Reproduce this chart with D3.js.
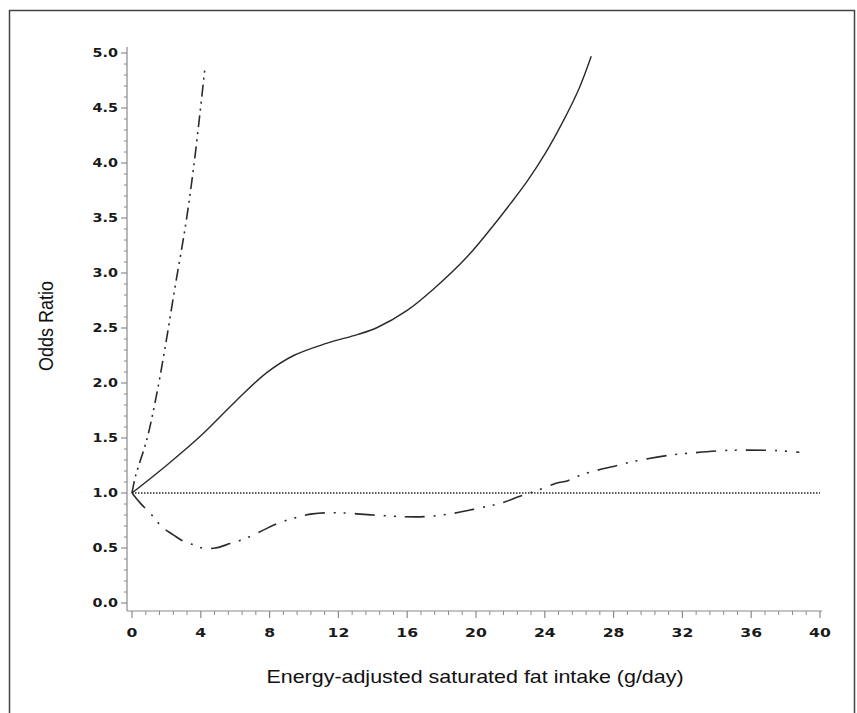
<!DOCTYPE html>
<html lang="en">
<head>
<meta charset="utf-8">
<title>Odds Ratio vs saturated fat intake</title>
<script src="https://d3js.org/d3.v7.min.js"></script>
<style>
  body { margin: 0; background: #fff; }
  .tick-label { font-family: "DejaVu Sans", sans-serif; font-weight: bold; font-size: 11.5px; fill: #1a1a1a; }
  .title { font-family: "Liberation Sans", Arial, sans-serif; font-size: 18.5px; fill: #111; }
</style>
</head>
<body>
<div id="vis"></div>
<script>
  // tick values
  const xTicks = [0, 4, 8, 12, 16, 20, 24, 28, 32, 36, 40];
  const yTicks = [0, 0.5, 1, 1.5, 2, 2.5, 3, 3.5, 4, 4.5, 5];

  // curves: [intake, odds ratio]
  const steepCurve = [[0, 1], [0.2, 1.15], [0.85, 1.48], [1.35, 1.83], [1.9, 2.3], [2.5, 2.87],
    [3.1, 3.42], [3.55, 3.92], [3.95, 4.45], [4.25, 4.88]];
  const solidCurve = [[0, 1], [2, 1.25], [4, 1.52], [6, 1.83], [7.8, 2.09], [9.4, 2.25], [11.3, 2.36],
    [13.1, 2.44], [14.2, 2.5], [16, 2.66], [17.5, 2.85], [19.5, 3.15], [21, 3.43], [22, 3.63], [23, 3.84],
    [24, 4.08], [25, 4.36], [26, 4.68], [26.7, 4.97]];
  const lowerCurve = [[0, 1], [0.47, 0.91], [1.15, 0.8], [1.75, 0.69], [2.4, 0.62], [3, 0.56], [3.55, 0.53],
    [4.05, 0.5], [4.85, 0.5], [5.7, 0.54], [6.5, 0.58], [7.6, 0.66], [8.4, 0.72], [9.4, 0.77], [10.5, 0.81],
    [12, 0.82], [14, 0.8], [15.8, 0.785], [17, 0.785], [18.5, 0.81], [19.65, 0.845], [20.7, 0.88],
    [21.5, 0.91], [22.55, 0.97], [23.5, 1.02], [24.7, 1.09], [25.3, 1.11], [26.2, 1.17], [28.2, 1.25],
    [29.1, 1.285], [31.3, 1.345], [32.25, 1.36], [34.3, 1.385], [35.5, 1.39], [37.5, 1.385], [38.8, 1.37]];
  const reference = [[0, 1], [40, 1]];

  const width = 857, height = 713;

  const x = d3.scaleLinear().domain([0, 40]).range([132, 820]);
  const y = d3.scaleLinear().domain([0, 5]).range([603, 53]);

  const svg = d3.select('#vis').append('svg')
    .attr('width', width)
    .attr('height', height);

  // frame round the figure (bottom edge falls off the page)
  svg.append('rect')
    .attr('x', 9.5).attr('y', 10.5)
    .attr('width', 845).attr('height', 720)
    .attr('fill', 'none')
    .attr('stroke', '#444')
    .attr('stroke-width', 1.5);

  const axisColour = '#8a8a8a';
  const yAxisX = 127, xAxisY = 611;

  // y axis: line, major + minor ticks
  svg.append('line')
    .attr('x1', yAxisX).attr('x2', yAxisX)
    .attr('y1', 47).attr('y2', xAxisY)
    .attr('stroke', axisColour).attr('stroke-width', 1.2);

  const yMinor = d3.range(0, 50).map(i => i / 10).filter(v => Math.round(v * 10) % 5 !== 0);
  svg.selectAll('.ytick-minor').data(yMinor).enter().append('line')
    .attr('x1', yAxisX - 3).attr('x2', yAxisX)
    .attr('y1', d => y(d)).attr('y2', d => y(d))
    .attr('stroke', axisColour);
  svg.selectAll('.ytick').data(yTicks).enter().append('line')
    .attr('x1', yAxisX - 6).attr('x2', yAxisX)
    .attr('y1', d => y(d)).attr('y2', d => y(d))
    .attr('stroke', axisColour).attr('stroke-width', 1.2);
  svg.selectAll('.ylab').data(yTicks).enter().append('text')
    .attr('class', 'tick-label')
    .attr('text-anchor', 'end')
    .attr('dy', '0.38em')
    .attr('transform', d => `translate(118,${y(d)}) scale(1.25,1)`)
    .text(d => d.toFixed(1));

  // x axis
  svg.append('line')
    .attr('x1', yAxisX).attr('x2', 822)
    .attr('y1', xAxisY).attr('y2', xAxisY)
    .attr('stroke', axisColour).attr('stroke-width', 1.2);

  const xMinor = d3.range(0, 50).map(i => i * 0.8).filter((v, i) => i % 5 !== 0 && v < 40);
  svg.selectAll('.xtick-minor').data(xMinor).enter().append('line')
    .attr('x1', d => x(d)).attr('x2', d => x(d))
    .attr('y1', xAxisY).attr('y2', xAxisY + 4)
    .attr('stroke', axisColour);
  svg.selectAll('.xtick').data(xTicks).enter().append('line')
    .attr('x1', d => x(d)).attr('x2', d => x(d))
    .attr('y1', xAxisY).attr('y2', xAxisY + 7)
    .attr('stroke', axisColour).attr('stroke-width', 1.2);
  svg.selectAll('.xlab').data(xTicks).enter().append('text')
    .attr('class', 'tick-label')
    .attr('text-anchor', 'middle')
    .attr('dy', '0.38em')
    .attr('transform', d => `translate(${x(d)},633) scale(1.36,1)`)
    .text(d => d);

  // titles (picture is stretched sideways a little, so the text is too)
  svg.append('text')
    .attr('class', 'title')
    .attr('text-anchor', 'middle')
    .style('font-size', '18px')
    .attr('transform', 'translate(53,326) scale(1.15,1) rotate(-90)')
    .text('Odds Ratio');
  svg.append('text')
    .attr('class', 'title')
    .attr('text-anchor', 'middle')
    .attr('transform', 'translate(475,683) scale(1.16,1)')
    .text('Energy-adjusted saturated fat intake (g/day)');

  // curves
  const line = d3.line()
    .x(d => x(d[0]))
    .y(d => y(d[1]))
    .curve(d3.curveCatmullRom.alpha(0.5));

  function drawCurve(data, dash, w) {
    svg.append('path')
      .datum(data)
      .attr('d', line)
      .attr('fill', 'none')
      .attr('stroke', '#2a2a2a')
      .attr('stroke-width', w)
      .attr('stroke-dasharray', dash);
  }

  drawCurve(reference, '1.5,1.5', 1.5);
  drawCurve(solidCurve, null, 1.4);
  drawCurve(steepCurve, '12,5,2,5,2,5', 1.6);
  drawCurve(lowerCurve, '20,9,2,8,2,9', 1.6);
</script>
</body>
</html>
